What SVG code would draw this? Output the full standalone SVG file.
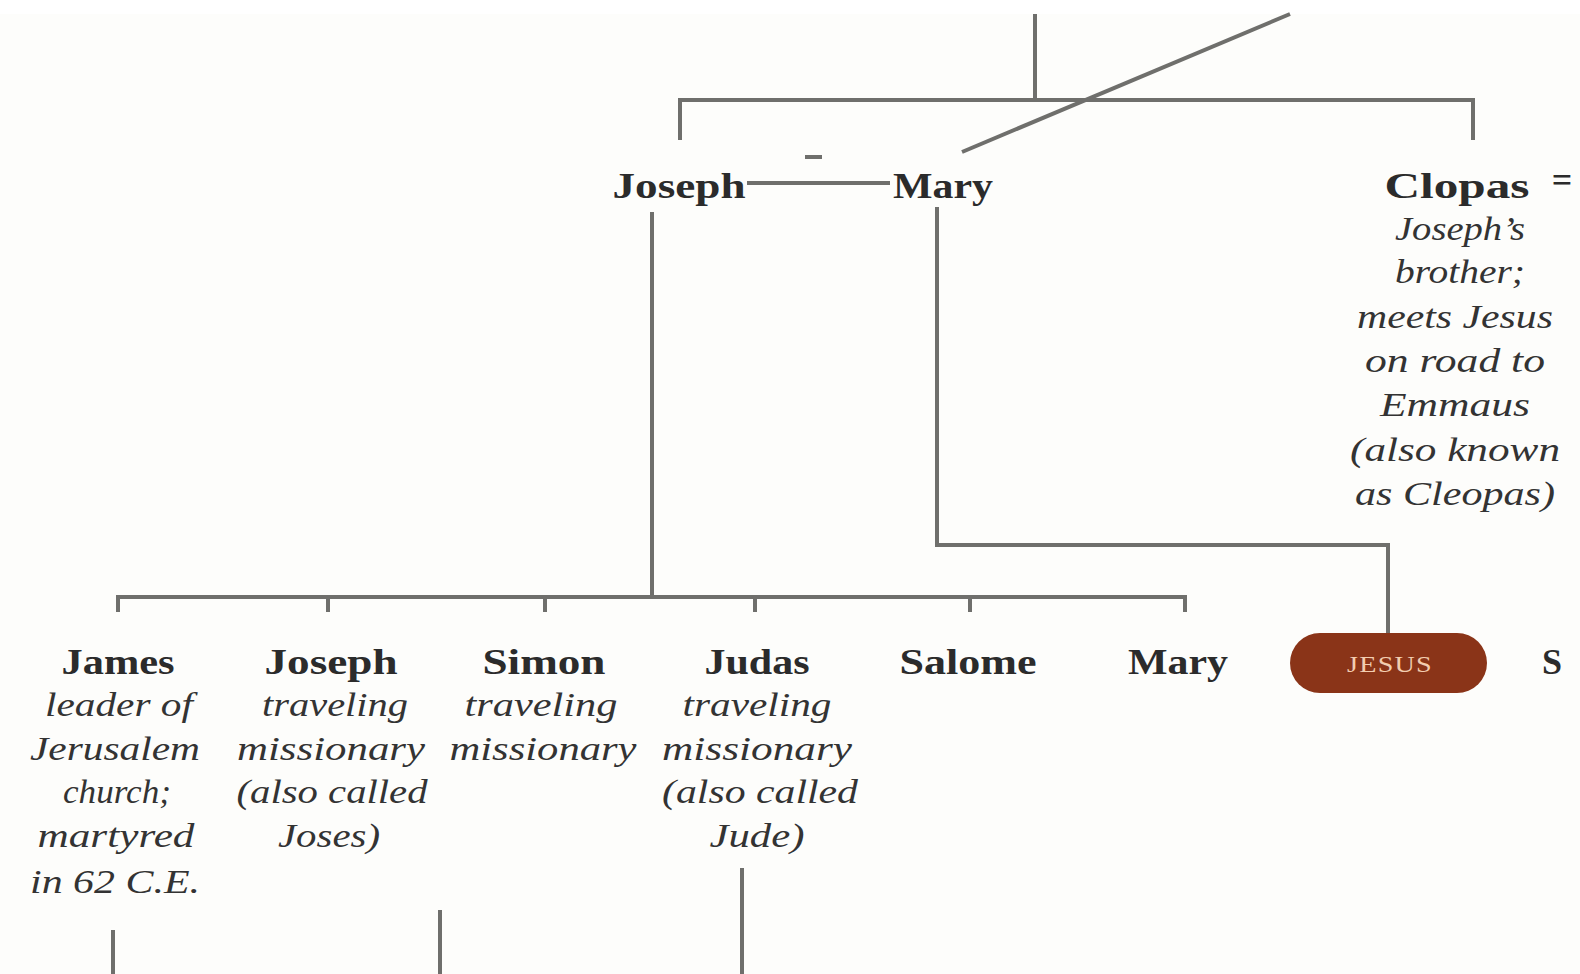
<svg xmlns="http://www.w3.org/2000/svg" width="1580" height="974" viewBox="0 0 1580 974">
<style>
.ln{fill:none;stroke:#6f6f6c;stroke-width:4}
.nm{font-family:"Liberation Serif",serif;font-weight:bold;font-size:36px;fill:#2b2b2b;text-anchor:middle}
.ds{font-family:"Liberation Serif",serif;font-style:italic;font-size:34px;fill:#333;text-anchor:middle}
.js{font-family:"Liberation Serif",serif;font-size:23px;fill:#f2cdb0;text-anchor:middle;letter-spacing:1px}
</style>
<rect width="1580" height="974" fill="#fdfdfb"/>
<rect width="1580" height="14" fill="#ffffff"/>
<g id="connectors">
<line class="ln" x1="1035" y1="14" x2="1035" y2="100" stroke-width="6"/>
<line class="ln" x1="1290" y1="14" x2="962" y2="152" stroke="#4a4a48"/>
<polyline class="ln" points="680,140 680,100 1473,100 1473,140"/>
<line class="ln" x1="747" y1="183" x2="890" y2="183" stroke="#8a8a86" stroke-width="5"/>
<line class="ln" x1="805" y1="157" x2="822" y2="157" stroke="#999" stroke-width="3"/>
<line class="ln" x1="652" y1="212" x2="652" y2="597" stroke-width="5"/>
<polyline class="ln" points="937,207 937,545 1388,545 1388,633"/>
<line class="ln" x1="116" y1="597" x2="1187" y2="597"/>
<line class="ln" x1="118" y1="597" x2="118" y2="612"/>
<line class="ln" x1="328" y1="597" x2="328" y2="612"/>
<line class="ln" x1="545" y1="597" x2="545" y2="612"/>
<line class="ln" x1="755" y1="597" x2="755" y2="612"/>
<line class="ln" x1="970" y1="597" x2="970" y2="612"/>
<line class="ln" x1="1185" y1="597" x2="1185" y2="612"/>
<line class="ln" x1="113" y1="930" x2="113" y2="974" stroke="#999"/>
<line class="ln" x1="440" y1="910" x2="440" y2="974" stroke="#999"/>
<line class="ln" x1="742" y1="868" x2="742" y2="974" stroke="#999"/>
</g>
<g id="joseph-top"><text class="nm" x="679" y="198" textLength="133" lengthAdjust="spacingAndGlyphs">Joseph</text></g>
<g id="mary-top"><text class="nm" x="943" y="198" textLength="100" lengthAdjust="spacingAndGlyphs">Mary</text></g>
<g id="clopas">
<text class="nm" x="1457" y="198" textLength="145" lengthAdjust="spacingAndGlyphs">Clopas</text>
<text class="nm" x="1562" y="192">=</text>
<text class="ds" x="1460" y="240" textLength="130" lengthAdjust="spacingAndGlyphs">Joseph’s</text>
<text class="ds" x="1460" y="283" textLength="130" lengthAdjust="spacingAndGlyphs">brother;</text>
<text class="ds" x="1455" y="328" textLength="196" lengthAdjust="spacingAndGlyphs">meets Jesus</text>
<text class="ds" x="1455" y="372" textLength="180" lengthAdjust="spacingAndGlyphs">on road to</text>
<text class="ds" x="1455" y="416" textLength="150" lengthAdjust="spacingAndGlyphs">Emmaus</text>
<text class="ds" x="1455" y="461" textLength="210" lengthAdjust="spacingAndGlyphs">(also known</text>
<text class="ds" x="1455" y="505" textLength="200" lengthAdjust="spacingAndGlyphs">as Cleopas)</text>
</g>
<g id="james">
<text class="nm" x="118" y="674" textLength="113" lengthAdjust="spacingAndGlyphs">James</text>
<text class="ds" x="119" y="716" textLength="148" lengthAdjust="spacingAndGlyphs">leader of</text>
<text class="ds" x="115" y="760" textLength="170" lengthAdjust="spacingAndGlyphs">Jerusalem</text>
<text class="ds" x="117" y="803" textLength="108" lengthAdjust="spacingAndGlyphs">church;</text>
<text class="ds" x="116" y="847" textLength="157" lengthAdjust="spacingAndGlyphs">martyred</text>
<text class="ds" x="115" y="893" textLength="170" lengthAdjust="spacingAndGlyphs">in 62 C.E.</text>
</g>
<g id="joseph">
<text class="nm" x="331" y="674" textLength="133" lengthAdjust="spacingAndGlyphs">Joseph</text>
<text class="ds" x="335" y="716" textLength="146" lengthAdjust="spacingAndGlyphs">traveling</text>
<text class="ds" x="331" y="760" textLength="188" lengthAdjust="spacingAndGlyphs">missionary</text>
<text class="ds" x="332" y="803" textLength="191" lengthAdjust="spacingAndGlyphs">(also called</text>
<text class="ds" x="329" y="847" textLength="102" lengthAdjust="spacingAndGlyphs">Joses)</text>
</g>
<g id="simon">
<text class="nm" x="544" y="674" textLength="123" lengthAdjust="spacingAndGlyphs">Simon</text>
<text class="ds" x="541" y="716" textLength="153" lengthAdjust="spacingAndGlyphs">traveling</text>
<text class="ds" x="543" y="760" textLength="187" lengthAdjust="spacingAndGlyphs">missionary</text>
</g>
<g id="judas">
<text class="nm" x="757" y="674" textLength="105" lengthAdjust="spacingAndGlyphs">Judas</text>
<text class="ds" x="757" y="716" textLength="149" lengthAdjust="spacingAndGlyphs">traveling</text>
<text class="ds" x="757" y="760" textLength="190" lengthAdjust="spacingAndGlyphs">missionary</text>
<text class="ds" x="760" y="803" textLength="196" lengthAdjust="spacingAndGlyphs">(also called</text>
<text class="ds" x="757" y="847" textLength="95" lengthAdjust="spacingAndGlyphs">Jude)</text>
</g>
<g id="salome"><text class="nm" x="968" y="674" textLength="137" lengthAdjust="spacingAndGlyphs">Salome</text></g>
<g id="mary"><text class="nm" x="1178" y="674" textLength="100" lengthAdjust="spacingAndGlyphs">Mary</text></g>
<g id="jesus">
<rect x="1290" y="633" width="197" height="60" rx="30" fill="#8a3418"/>
<text class="js" x="1390" y="672" textLength="86" lengthAdjust="spacingAndGlyphs">JESUS</text>
</g>
<g id="simeon"><text class="nm" x="1552" y="674" text-anchor="start">S</text></g>
</svg>
